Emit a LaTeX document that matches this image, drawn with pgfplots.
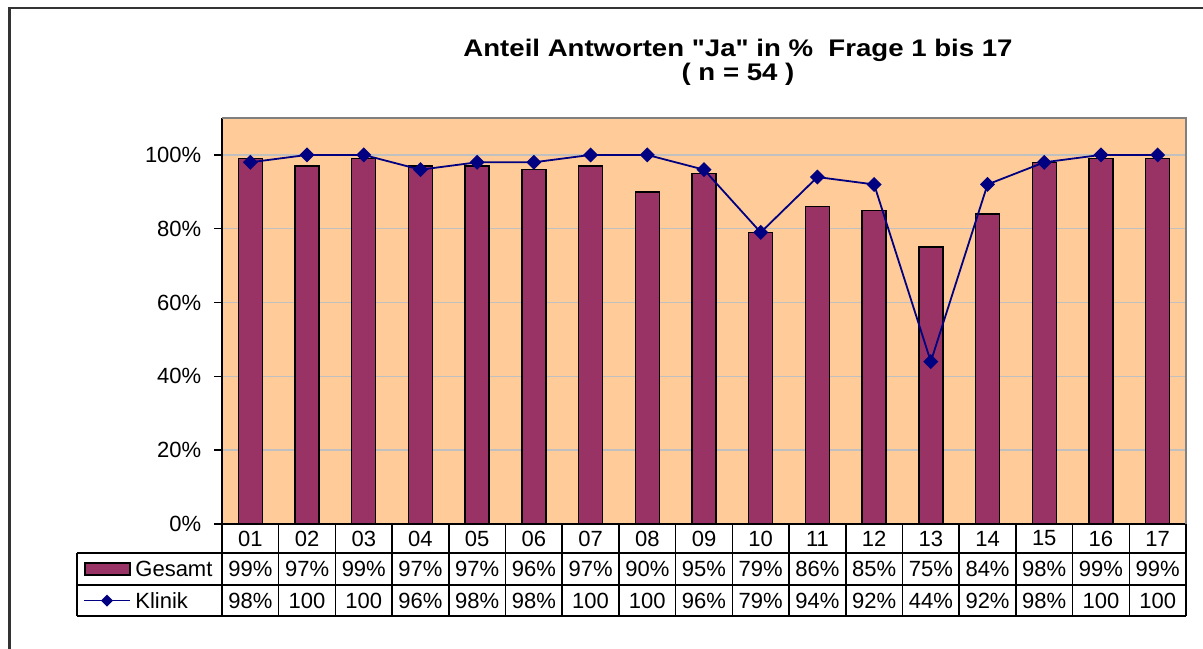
\documentclass[border=0pt]{standalone}
\usepackage{pgfplots}
\pgfplotsset{compat=1.18}
\usepackage{fontspec}
\setmainfont{Liberation Sans}
\newfontfamily\titlefont{Liberation Sans}
\definecolor{bg}{HTML}{FFCC99}
\definecolor{barc}{HTML}{993366}
\definecolor{navyc}{HTML}{000080}
\definecolor{gridc}{HTML}{C0C0C0}
\begin{document}
\begin{tikzpicture}
\fontsize{11}{13}\selectfont
\path[use as bounding box] (0,0) rectangle (601.5pt,-324pt);
\draw[line width=1.2pt, black!80] (4.75pt,-340pt) -- (4.75pt,-4pt) -- (620pt,-4pt);
\node[anchor=base, inner sep=0pt, font=\titlefont\bfseries\fontsize{12}{14}\selectfont] at (369pt,-28.2pt) {\scalebox{1.15}[1]{Anteil Antworten "Ja" in \%\ \ Frage 1 bis 17}};
\node[anchor=base, inner sep=0pt, font=\titlefont\bfseries\fontsize{12}{14}\selectfont] at (369pt,-40pt) {\scalebox{1.15}[1]{( n = 54 )}};
\begin{axis}[
  at={(111pt,-262pt)}, anchor=south west, scale only axis,
  width=482pt, height=203pt,
  xmin=0.5, xmax=17.5, ymin=0, ymax=110,
  axis background/.style={fill=bg},
  clip=false,
  axis lines*=left,
  axis line style={black, line width=0.8pt},
  xtick=\empty,
  ytick={0,20,40,60,80,100},
  yticklabel={\pgfmathprintnumber{\tick}\%},
  /pgf/number format/assume math mode=true,
  tick align=outside,
  major tick length=4pt,
  ytick style={black, line width=0.7pt},
  ymajorgrids,
  grid style={gridc, line width=0.7pt},
  yticklabel style={font=\fontsize{11}{13}\selectfont, xshift=-2.5pt},
]
\draw[gray, line width=0.7pt] (axis cs:0.5,110) -- (axis cs:17.5,110) -- (axis cs:17.5,0);
\addplot[ybar, bar width=12pt, fill=barc, draw=black, line width=0.7pt] coordinates {
(1,99) (2,97) (3,99) (4,97) (5,97) (6,96) (7,97) (8,90) (9,95) (10,79)
(11,86) (12,85) (13,75) (14,84) (15,98) (16,99) (17,99)};
\addplot[navyc, line width=0.9pt, mark=square*, mark size=2.2pt, mark options={rotate=45, fill=navyc, draw=navyc}] coordinates {
(1,98) (2,100) (3,100) (4,96) (5,98) (6,98) (7,100) (8,100) (9,96) (10,79)
(11,94) (12,92) (13,44) (14,92) (15,98) (16,100) (17,100)};
\addplot[draw=none, nodes near coords, point meta=explicit symbolic,
  nodes near coords style={anchor=center, inner sep=0pt, text=black, font=\fontsize{11}{13}\selectfont}]
  table[x=x, y expr=-3.93, meta=c] {
x c
1 01
2 02
3 03
4 04
5 05
6 06
7 07
8 08
9 09
10 10
11 11
12 12
13 13
14 14
15 15
16 16
17 17
};
\addplot[draw=none, nodes near coords, point meta=explicit symbolic,
  nodes near coords style={anchor=center, inner sep=0pt, text=black, font=\fontsize{11}{13}\selectfont}]
  table[x=x, y expr=-12.19, meta=c] {
x c
1 99\%
2 97\%
3 99\%
4 97\%
5 97\%
6 96\%
7 97\%
8 90\%
9 95\%
10 79\%
11 86\%
12 85\%
13 75\%
14 84\%
15 98\%
16 99\%
17 99\%
};
\addplot[draw=none, nodes near coords, point meta=explicit symbolic,
  nodes near coords style={anchor=center, inner sep=0pt, text=black, font=\fontsize{11}{13}\selectfont}]
  table[x=x, y expr=-20.73, meta=c] {
x c
1 98\%
2 100
3 100
4 96\%
5 98\%
6 98\%
7 100
8 100
9 96\%
10 79\%
11 94\%
12 92\%
13 44\%
14 92\%
15 98\%
16 100
17 100
};
\end{axis}
% data table grid
\draw[black, line width=0.75pt] (38.5pt,-276.5pt) -- (593pt,-276.5pt);
\draw[black, line width=0.75pt] (38.5pt,-292.5pt) -- (593pt,-292.5pt);
\draw[black, line width=0.75pt] (38.5pt,-308pt) -- (593pt,-308pt);
\draw[black, line width=0.75pt] (38.5pt,-276.5pt) -- (38.5pt,-308pt);
\foreach \k in {0,...,17} {
  \draw[black, line width=0.75pt] ({111pt+\k*28.353pt},-262pt) -- ++(0,-46pt);
}
% legend keys
\draw[fill=barc, line width=0.75pt] (42.5pt,-281.5pt) rectangle (65pt,-287.5pt);
\node[anchor=west, inner sep=0pt] at (67.5pt,-284.5pt) {Gesamt};
\draw[navyc, line width=0.8pt] (42pt,-300.25pt) -- (65pt,-300.25pt);
\fill[navyc] (53.5pt,-300.25pt) +(0,3pt) -- +(3pt,0) -- +(0,-3pt) -- +(-3pt,0) -- cycle;
\node[anchor=west, inner sep=0pt] at (67.5pt,-300.25pt) {Klinik};
\end{tikzpicture}
\end{document}
